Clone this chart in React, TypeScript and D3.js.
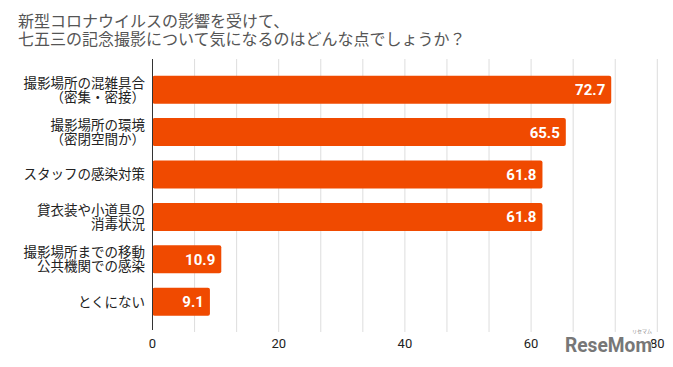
import React from 'react';
import * as d3 from 'd3';

const titleLines = ['新型コロナウイルスの影響を受けて、', '七五三の記念撮影について気になるのはどんな点でしょうか？'];
const categories = [
  ['撮影場所の混雑具合', '（密集・密接）'],
  ['撮影場所の環境', '（密閉空間か）'],
  ['スタッフの感染対策'],
  ['貸衣装や小道具の', '消毒状況'],
  ['撮影場所までの移動', '公共機関での感染'],
  ['とくにない'],
];
const values = [72.7, 65.5, 61.8, 61.8, 10.9, 9.1];
const tickValues = [0, 20, 40, 60, 80];

const W = 673;
const H = 367;
const JP = '"Noto Sans CJK JP", "Noto Sans", sans-serif';

export default function App() {
  const x = d3.scaleLinear().domain([0, 80]).range([152.5, 657.3]);
  const y = d3
    .scaleBand<number>()
    .domain(d3.range(categories.length))
    .range([68.5, 322.9])
    .paddingInner(0.34)
    .paddingOuter(0.17);

  const gridTop = 59;
  const gridBottom = 332;
  const gridVals = d3.range(1, 13).map((i) => (i * 20) / 3);

  return (
    <svg width={W} height={H} style={{ position: 'absolute', left: 0, top: 0, background: '#fff' }}>
      <rect width={W} height={H} fill="#fff" />
      {titleLines.map((t, i) => (
        <text key={i} x={18} y={27 + i * 17.5} fontSize={16} fill="#555" fontFamily={JP}>
          {t}
        </text>
      ))}

      {gridVals.map((v) => (
        <line key={v} x1={x(v)} x2={x(v)} y1={gridTop} y2={gridBottom} stroke="#dddddd" strokeWidth={1} />
      ))}

      {values.map((v, i) => (
        <g key={i}>
          <rect
            x={x(0)}
            y={y(i)}
            width={x(v) - x(0)}
            height={y.bandwidth()}
            rx={2}
            fill="#f04a00"
          />
          <text
            x={x(v) - 6}
            y={(y(i) as number) + y.bandwidth() / 2}
            dy="0.36em"
            textAnchor="end"
            fill="#fff"
            fontWeight="bold"
            fontSize={15}
            fontFamily="Roboto, sans-serif"
          >
            {v.toFixed(1)}
          </text>
        </g>
      ))}

      <line x1={x(0)} x2={x(0)} y1={gridTop} y2={gridBottom - 2} stroke="#333" strokeWidth={1} />

      {categories.map((lines, i) => {
        const cy = (y(i) as number) + y.bandwidth() / 2;
        const lh = 14;
        return (
          <text key={i} textAnchor="end" fontSize={13.5} fill="#222" fontFamily={JP}>
            {lines.map((l, j) => (
              <tspan key={j} x={145} y={cy + (j - (lines.length - 1) / 2) * lh} dy="0.36em">
                {l}
              </tspan>
            ))}
          </text>
        );
      })}

      {tickValues.map((t) => (
        <text
          key={t}
          x={x(t)}
          y={343}
          dy="0.36em"
          textAnchor="middle"
          fontSize={13}
          fill="#222"
          fontFamily="Roboto, Arial, sans-serif"
        >
          {t}
        </text>
      ))}

      <text
        x={565}
        y={352}
        fontSize={21}
        fontWeight="bold"
        fill="#777"
        stroke="#fff"
        strokeWidth={1.5}
        paintOrder="stroke"
        textLength={87}
        lengthAdjust="spacingAndGlyphs"
        fontFamily="Roboto, Arial, sans-serif"
      >
        ReseMom
      </text>
      <text x={632} y={333} fontSize={5} fill="#888" fontFamily={JP}>
        リセマム
      </text>
    </svg>
  );
}
